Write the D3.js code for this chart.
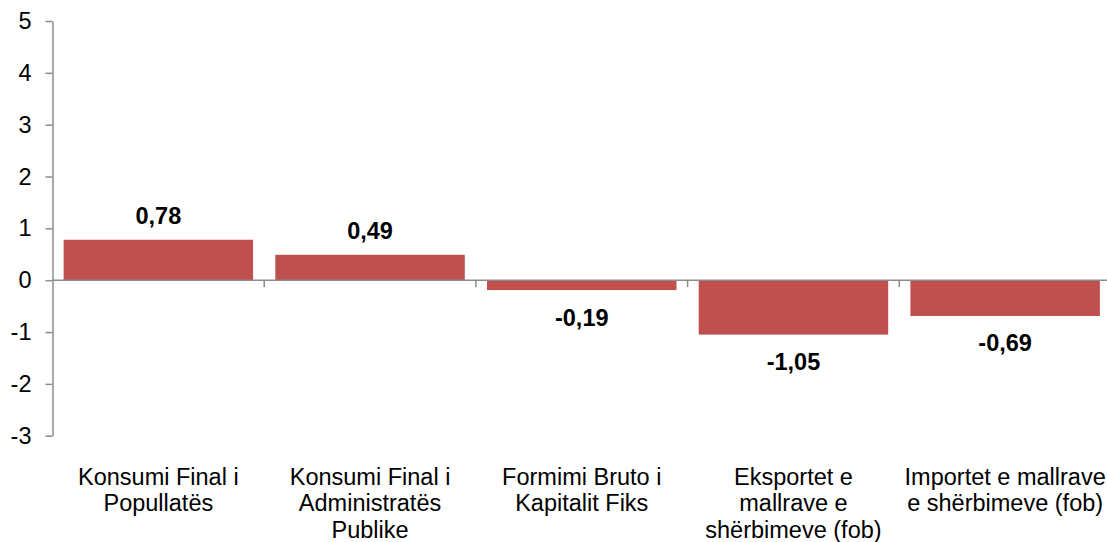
<!DOCTYPE html>
<html>
<head>
<meta charset="utf-8">
<script src="https://cdn.jsdelivr.net/npm/d3@7"></script>
<style>
  html, body { margin: 0; padding: 0; background: #fff; }
  svg { display: block; font-family: "Liberation Sans", Arial, sans-serif; }
</style>
</head>
<body>
<div id="chart"></div>
<script>
// Data
const categories = [
    'Konsumi Final i Popullatës',
    'Konsumi Final i Administratës Publike',
    'Formimi Bruto i Kapitalit Fiks',
    'Eksportet e mallrave e shërbimeve (fob)',
    'Importet e mallrave e shërbimeve (fob)'
];
const values = [0.78, 0.49, -0.19, -1.05, -0.69];
const yTicks = [-3, -2, -1, 0, 1, 2, 3, 4, 5];

const width = 1107;
const height = 542;
const axisColor = '#8c8c8c';
const barColor = '#c0504d';
const fontSize = '23.5px';

const svg = d3.select('#chart')
    .append('svg')
    .attr('width', width)
    .attr('height', height);

const xScale = d3.scaleBand()
    .domain(categories)
    .range([52.5, 1111])
    .paddingInner(0.105)
    .paddingOuter(0.0525);

const yScale = d3.scaleLinear().domain([-3, 5]).range([435.7, 21]);

// Y axis
const yAxis = svg.append('g')
    .attr('transform', `translate(${xScale.range()[0]},0)`)
    .call(d3.axisLeft(yScale).tickValues(yTicks).tickSize(7).tickPadding(14).tickSizeOuter(0)
        .tickFormat(d => String(d)));
yAxis.select('.domain').attr('stroke', axisColor).attr('stroke-width', 1.5);
yAxis.selectAll('.tick line').attr('stroke', axisColor).attr('stroke-width', 1.5);
yAxis.selectAll('.tick text')
    .attr('fill', '#000')
    .style('font-size', fontSize)
    .style('font-family', '"Liberation Sans", Arial, sans-serif');

// Bars
svg.append('g')
    .selectAll('rect')
    .data(values)
    .join('rect')
    .attr('x', (d, i) => xScale(categories[i]))
    .attr('width', xScale.bandwidth())
    .attr('y', d => yScale(Math.max(0, d)))
    .attr('height', d => Math.abs(yScale(d) - yScale(0)))
    .attr('fill', barColor);

// Zero line with category separators
const y0 = yScale(0);
svg.append('line')
    .attr('x1', xScale.range()[0])
    .attr('x2', xScale.range()[1])
    .attr('y1', y0)
    .attr('y2', y0)
    .attr('stroke', axisColor)
    .attr('stroke-width', 1.5);

svg.append('g')
    .selectAll('line')
    .data(d3.range(1, categories.length + 1))
    .join('line')
    .attr('x1', i => xScale.range()[0] + i * xScale.step())
    .attr('x2', i => xScale.range()[0] + i * xScale.step())
    .attr('y1', y0)
    .attr('y2', y0 + 7)
    .attr('stroke', axisColor)
    .attr('stroke-width', 1.5);

// Value labels
const fmt = v => v.toFixed(2).replace('.', ',');
svg.append('g')
    .selectAll('text')
    .data(values)
    .join('text')
    .attr('x', (d, i) => xScale(categories[i]) + xScale.bandwidth() / 2)
    .attr('y', d => d >= 0 ? yScale(d) - 16 : yScale(d) + 35.5)
    .attr('text-anchor', 'middle')
    .style('font-size', fontSize)
    .style('font-weight', 'bold')
    .text(d => fmt(d));

// Category labels, wrapped
const catLabels = svg.append('g')
    .selectAll('text')
    .data(categories)
    .join('text')
    .attr('x', d => xScale(d) + xScale.bandwidth() / 2)
    .attr('y', 484.5)
    .attr('text-anchor', 'middle')
    .style('font-size', fontSize);

catLabels.each(function (d) {
    const text = d3.select(this);
    const words = d.split(' ');
    const maxWidth = 207;
    let line = [];
    let tspan = text.append('tspan').attr('x', text.attr('x')).attr('dy', 0);
    for (const w of words) {
        line.push(w);
        tspan.text(line.join(' '));
        if (tspan.node().getComputedTextLength() > maxWidth && line.length > 1) {
            line.pop();
            tspan.text(line.join(' '));
            line = [w];
            tspan = text.append('tspan').attr('x', text.attr('x')).attr('dy', 26.5).text(w);
        }
    }
});
</script>
</body>
</html>
